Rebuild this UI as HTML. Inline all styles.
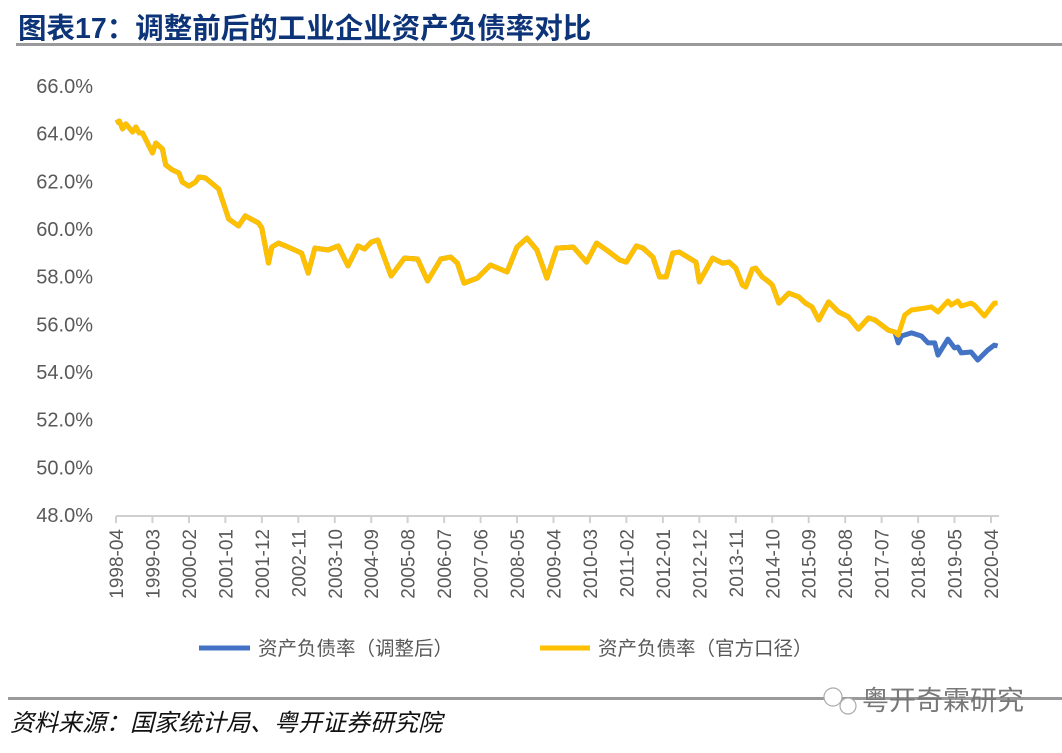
<!DOCTYPE html>
<html><head><meta charset="utf-8"><style>
body{margin:0;background:#fff;width:1062px;height:748px;overflow:hidden;font-family:"Liberation Sans","Noto Sans CJK SC",sans-serif}
</style></head><body>
<svg width="1062" height="748">
<text x="18" y="38" font-size="28.5" font-weight="bold" fill="#0D3478" font-family="Liberation Sans, Noto Sans CJK SC, sans-serif">图表17：调整前后的工业企业资产负债率对比</text>
<rect x="16" y="43" width="1046" height="3" fill="#9A9A9A"/>
<g id="yaxis"></g>
<g id="xaxis"></g>
<g id="series"></g>
<g>
<g><line x1="199" y1="648" x2="250" y2="648" stroke="#4472C4" stroke-width="5"/><text x="258" y="655" font-size="19.5" fill="#595959">资产负债率（调整后）</text></g>
<g><line x1="540" y1="648" x2="590" y2="648" stroke="#FFC000" stroke-width="5"/><text x="598" y="655" font-size="19.5" fill="#595959">资产负债率（官方口径）</text></g>
</g>
<rect x="8" y="697" width="1054" height="3" fill="#9A9A9A"/>
<text x="10" y="731" font-size="24" font-style="italic" fill="#111">资料来源：国家统计局、粤开证券研究院</text>
<g><circle cx="833" cy="697" r="9" fill="#fff" stroke="#aaa" stroke-width="1.2"/><circle cx="848" cy="706" r="8" fill="#fff" stroke="#aaa" stroke-width="1.2"/><text x="862" y="710" font-size="27" fill="#777">粤开奇霖研究</text></g>
</svg>
<script>
const yTicks=[48,50,52,54,56,58,60,62,64,66];
const xTickLabels=["1998-04","1999-03","2000-02","2001-01","2001-12","2002-11","2003-10","2004-09","2005-08","2006-07","2007-06","2008-05","2009-04","2010-03","2011-02","2012-01","2012-12","2013-11","2014-10","2015-09","2016-08","2017-07","2018-06","2019-05","2020-04"];
const commonMonths=[0,1,2,3,5,6,7,8,11,12,14,15,17,19,20,22,24,25,27,31,34,37,39,43,44,46,47,49,52,56,58,60,64,67,70,73,75,77,79,83,87,91,94,98,101,103,105,109,113,118,121,124,127,130,133,138,142,145,148,152,154,157,159,162,164,166,168,170,175,176,180,183,185,187,189,190,192,193,195,197,198,200,203,206,208,210,212,215,218,221,224,227,229,233,235];
const commonValues=[64.45,64.53,64.20,64.41,64.07,64.28,64.03,64.03,63.19,63.61,63.36,62.69,62.48,62.35,61.97,61.80,61.97,62.18,62.14,61.68,60.42,60.13,60.55,60.25,60.04,58.57,59.24,59.41,59.24,58.99,58.15,59.20,59.12,59.29,58.45,59.29,59.16,59.45,59.54,58.03,58.78,58.74,57.82,58.74,58.82,58.57,57.73,57.94,58.49,58.20,59.24,59.62,59.12,57.94,59.20,59.24,58.61,59.41,59.12,58.70,58.61,59.29,59.20,58.82,57.99,57.99,58.99,59.03,58.61,57.78,58.78,58.57,58.61,58.36,57.65,57.57,58.32,58.36,57.99,57.78,57.65,56.89,57.31,57.15,56.89,56.73,56.18,56.94,56.52,56.31,55.80,56.27,56.18,55.76,55.68];
const adjMonths=[236,237,240,243,245,247,248,251,253,254,255,258,260,263,265,266];
const adjValues=[55.22,55.51,55.64,55.51,55.22,55.22,54.71,55.38,55.01,55.05,54.80,54.84,54.50,54.92,55.13,55.09];
const offMonths=[236,238,240,244,246,248,251,252,254,255,258,259,262,265,266];
const offValues=[55.55,56.39,56.60,56.68,56.73,56.52,56.98,56.81,56.98,56.77,56.89,56.81,56.35,56.89,56.89];
const NS="http://www.w3.org/2000/svg";
const x0=116,pxPerMonth=875/264,yTop=86,yBot=515,vMin=48,vMax=66;
const X=m=>x0+m*pxPerMonth;
const Y=v=>yBot-(v-vMin)/(vMax-vMin)*(yBot-yTop);
function mk(t,a,p){const e=document.createElementNS(NS,t);for(const k in a)e.setAttribute(k,a[k]);p.appendChild(e);return e;}
const ya=document.getElementById('yaxis');
yTicks.forEach(v=>{const t=mk('text',{x:93,y:Y(v)+7,'text-anchor':'end','font-size':20,fill:'#595959'},ya);


t.textContent=v.toFixed(1)+'%';});
const xa=document.getElementById('xaxis');
const ax=mk('line',{x1:x0,y1:516,x2:999,y2:516,stroke:'#D0D0D0','stroke-width':2},xa);


xTickLabels.forEach((l,i)=>{const x=X(i*11);
const tk=mk('line',{x1:x,y1:516,x2:x,y2:523,stroke:'#D0D0D0','stroke-width':2},xa);


const t=mk('text',{x:0,y:0,'font-size':19,fill:'#595959','text-anchor':'end',transform:`translate(${x+7},529) rotate(-90)`},xa);


t.textContent=l;});
const sg=document.getElementById('series');
function path(ms,vs){return ms.map((m,i)=>(i?'L':'M')+X(m).toFixed(1)+','+Y(vs[i]).toFixed(1)).join('');}
const pa=mk('path',{d:path(commonMonths.concat(adjMonths),commonValues.concat(adjValues)),fill:'none',stroke:'#4472C4','stroke-width':5,'stroke-linejoin':'round'},sg);


const po=mk('path',{d:path(commonMonths.concat(offMonths),commonValues.concat(offValues)),fill:'none',stroke:'#FFC000','stroke-width':5,'stroke-linejoin':'round'},sg);


</script>
</body></html>
